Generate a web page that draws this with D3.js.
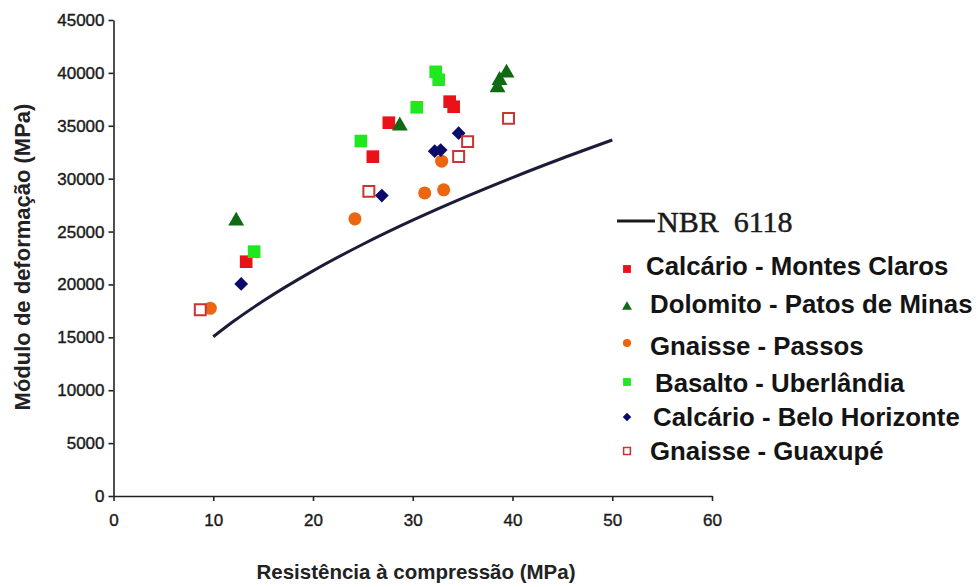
<!DOCTYPE html>
<html>
<head>
<meta charset="utf-8">
<script src="https://cdn.jsdelivr.net/npm/d3@7"></script>
<style>
  body { margin: 0; background: #fff; }
  text { font-family: "Liberation Sans", Arial, sans-serif; }
</style>
</head>
<body>
<svg id="chart" width="979" height="587"></svg>
<script>
// Axis ticks
const xTicks = [0, 10, 20, 30, 40, 50, 60];
const yTicks = [0, 5000, 10000, 15000, 20000, 25000, 30000, 35000, 40000, 45000];

// NBR 6118 reference curve (fck in MPa, Ecs in MPa)
const nbrFck = [10, 12, 15, 20, 25, 30, 35, 40, 45, 50];
const nbrE   = [15052, 16489, 18435, 21287, 23800, 26072, 28161, 30105, 31931, 33658];

// Measured concrete samples by aggregate source
const calcarioMCx = [13.3, 26.0, 27.6, 33.7, 34.1];
const calcarioMCy = [22150, 32080, 35290, 37280, 36800];

const dolomitoX = [12.3, 28.7, 38.5, 38.7, 39.4];
const dolomitoY = [26000, 35000, 38600, 39300, 40000];

const gnaissePassosX = [9.7, 24.2, 31.2, 33.1, 32.9];
const gnaissePassosY = [17750, 26200, 28650, 28950, 31650];

const basaltoX = [14.1, 24.8, 30.4, 32.3, 32.6];
const basaltoY = [23100, 33560, 36750, 40100, 39350];

const calcarioBHx = [12.8, 26.9, 32.2, 32.8, 34.6];
const calcarioBHy = [20050, 28400, 32600, 32700, 34300];

const guaxupeX = [8.7, 25.6, 34.6, 35.5, 39.6];
const guaxupeY = [17600, 28800, 32100, 33500, 35700];

const seriesNames = [
  "Calcário - Montes Claros",
  "Dolomito - Patos de Minas",
  "Gnaisse - Passos",
  "Basalto - Uberlândia",
  "Calcário - Belo Horizonte",
  "Gnaisse - Guaxupé"
];

const series = [
  { name: seriesNames[0], xs: calcarioMCx, ys: calcarioMCy, shape: "square", fill: "#ea1118", stroke: "none" },
  { name: seriesNames[1], xs: dolomitoX, ys: dolomitoY, shape: "triangle", fill: "#0f6a12", stroke: "none" },
  { name: seriesNames[2], xs: gnaissePassosX, ys: gnaissePassosY, shape: "circle", fill: "#ec6612", stroke: "none" },
  { name: seriesNames[3], xs: basaltoX, ys: basaltoY, shape: "square", fill: "#1fe81f", stroke: "none" },
  { name: seriesNames[4], xs: calcarioBHx, ys: calcarioBHy, shape: "diamond", fill: "#0b0b6b", stroke: "none" },
  { name: seriesNames[5], xs: guaxupeX, ys: guaxupeY, shape: "open", fill: "#fff", stroke: "#cc3333" }
];

const svg = d3.select("#chart");

const x = d3.scaleLinear().domain([0, 60]).range([113.5, 712]);
const y = d3.scaleLinear().domain([0, 45000]).range([496, 20]);

// Axes
const xAxis = d3.axisBottom(x).tickValues(xTicks).tickSize(5).tickSizeOuter(0).tickPadding(13);
const yAxis = d3.axisLeft(y).tickValues(yTicks).tickSize(5).tickSizeOuter(0).tickPadding(4)
  .tickFormat(d3.format("d"));

const gx = svg.append("g").attr("transform", `translate(0,${y(0)})`).call(xAxis);
const gy = svg.append("g").attr("transform", `translate(${x(0)},0)`).call(yAxis);

[gx, gy].forEach(g => {
  g.select(".domain").attr("stroke", "#222").attr("stroke-width", 1.6);
  g.selectAll(".tick line").attr("stroke", "#222").attr("stroke-width", 1.6);
  g.selectAll(".tick text")
    .attr("fill", "#1a1a1a")
    .attr("stroke", "#1a1a1a")
    .attr("stroke-width", 0.4)
    .style("font-family", "'Liberation Sans', Arial, sans-serif")
    .style("font-size", "17px");
});

// Axis titles
svg.append("text")
  .attr("x", 416).attr("y", 579)
  .attr("text-anchor", "middle")
  .style("font-size", "20.5px").style("font-weight", "bold").attr("fill", "#222")
  .text("Resistência à compressão (MPa)");

svg.append("text")
  .attr("transform", "translate(30,257) rotate(-90)")
  .attr("text-anchor", "middle")
  .style("font-size", "22px").style("font-weight", "bold").attr("fill", "#222")
  .text("Módulo de deformação (MPa)");

// NBR 6118 curve
const line = d3.line()
  .x((d, i) => x(nbrFck[i]))
  .y(d => y(d))
  .curve(d3.curveMonotoneX);

svg.append("path")
  .datum(nbrE)
  .attr("d", line)
  .attr("fill", "none")
  .attr("stroke", "#1c1c38")
  .attr("stroke-width", 3);

// Marker path generator
function markerPath(shape, scale) {
  const s = scale;
  switch (shape) {
    case "square":
      return d3.symbol(d3.symbolSquare, 160 * s * s)();
    case "open":
      return d3.symbol(d3.symbolSquare, 120 * s * s)();
    case "triangle":
      return d3.symbol(d3.symbolTriangle, 110 * s * s)();
    case "circle":
      return d3.symbol(d3.symbolCircle, 135 * s * s)();
    case "diamond":
      return d3.symbol(d3.symbolSquare, 95 * s * s)();
  }
}

function drawMarker(g, shape, fill, stroke, cx, cy, scale) {
  const p = g.append("path")
    .attr("d", markerPath(shape, scale))
    .attr("transform", `translate(${cx},${cy})` + (shape === "diamond" ? " rotate(45)" : ""))
    .attr("fill", fill);
  if (shape === "open") {
    p.attr("stroke", stroke).attr("stroke-width", 2 * Math.max(scale, 0.75));
  }
  return p;
}

// Data points
const pts = svg.append("g");
series.forEach(s => {
  s.xs.forEach((xv, i) => {
    drawMarker(pts, s.shape, s.fill, s.stroke, x(xv), y(s.ys[i]), 1);
  });
});

// Legend
const legend = svg.append("g");
legend.append("line")
  .attr("x1", 617).attr("x2", 655).attr("y1", 221).attr("y2", 221)
  .attr("stroke", "#1a1a1a").attr("stroke-width", 3);
legend.append("text")
  .attr("x", 657).attr("y", 232)
  .style("font-family", "'Liberation Serif', 'Times New Roman', serif")
  .style("font-size", "30px").attr("fill", "#1a1a1a")
  .attr("stroke", "#1a1a1a").attr("stroke-width", 0.5)
  .attr("xml:space", "preserve")
  .text("NBR  6118");

const legendRows = [
  { my: 269, tx: 646, ty: 275 },
  { my: 307, tx: 650, ty: 313 },
  { my: 343, tx: 650, ty: 355 },
  { my: 382, tx: 655, ty: 392 },
  { my: 417, tx: 653, ty: 426 },
  { my: 451, tx: 650, ty: 460 }
];

series.forEach((s, i) => {
  const r = legendRows[i];
  drawMarker(legend, s.shape, s.fill, s.stroke, 627, r.my, 0.62);
  legend.append("text")
    .attr("x", r.tx).attr("y", r.ty)
    .style("font-size", "25.8px")
    .style("font-weight", "bold")
    .attr("fill", "#141414")
    .text(s.name);
});
</script>
</body>
</html>
